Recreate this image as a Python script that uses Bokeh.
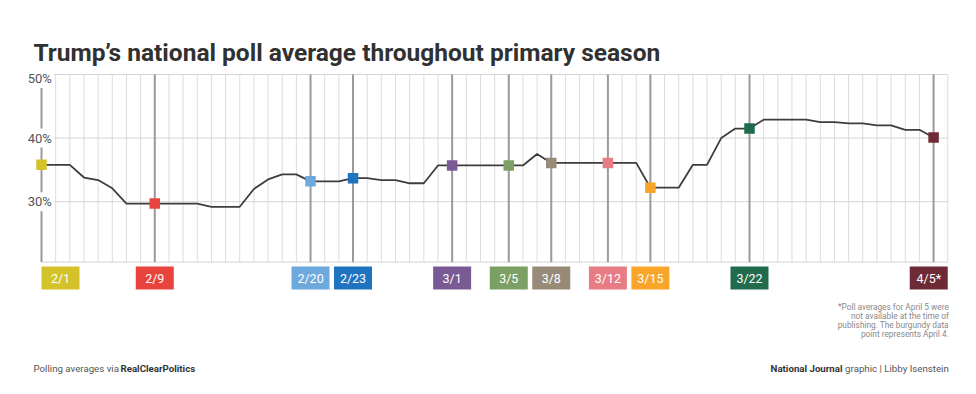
import numpy as np
import pandas as pd
from bokeh.plotting import figure
from bokeh.models import Range1d
from bokeh.core.properties import value
from bokeh.embed import file_html
from bokeh.resources import INLINE

# ---------------- data ----------------
start_date = "2016-02-01"
poll_dates = pd.date_range("2016-02-01", "2016-04-04", freq="D")
poll_avg = [
    35.8, 35.8, 35.8, 33.8, 33.4, 32.1, 29.7, 29.7, 29.7, 29.7,
    29.7, 29.7, 29.2, 29.2, 29.2, 32.0, 33.5, 34.3, 34.3, 33.2,
    33.2, 33.2, 33.7, 33.7, 33.4, 33.4, 32.9, 32.9, 35.7, 35.7,
    35.7, 35.7, 35.7, 35.7, 35.7, 37.5, 36.1, 36.1, 36.1, 36.1,
    36.1, 36.1, 36.1, 32.2, 32.2, 32.2, 35.8, 35.8, 40.0, 41.5,
    41.5, 42.9, 42.9, 42.9, 42.9, 42.5, 42.5, 42.3, 42.3, 42.0,
    42.0, 41.3, 41.3, 40.1,
]
event_labels = ["2/1", "2/9", "2/20", "2/23", "3/1", "3/5", "3/8",
                "3/12", "3/15", "3/22", "4/5*"]
event_dates = ["2016-02-01", "2016-02-09", "2016-02-20", "2016-02-23",
               "2016-03-01", "2016-03-05", "2016-03-08", "2016-03-12",
               "2016-03-15", "2016-03-22", "2016-04-04"]
event_colors = ["#D3C22A", "#E8433C", "#6DA9DD", "#1F74BF", "#7A5A94",
                "#7CA064", "#978B77", "#E87C85", "#F8A52A", "#1F6B4C",
                "#6E2B37"]
y_ticks = [30, 40, 50]
y_tick_labels = ["30%", "40%", "50%"]

title_text = "Trump\u2019s national poll average throughout primary season"
note_lines = ["*Poll averages for April 5 were",
              "not available at the time of",
              "publishing. The burgundy data",
              "point represents April 4."]

# ---------------- layout ----------------
W, H = 968, 386
PX_DAY = 14.16
X0 = 41.0           # pixel of day 0
PX_PCT = 6.36
Y50 = 74.0          # pixel (from top) of 50%
Y_BOTTOM = 20.5

def dx(px):
    return (px - X0) / PX_DAY

def dy(py):
    return 50 - (py - Y50) / PX_PCT

t0 = pd.Timestamp(start_date)
x = np.array([(d - t0).days for d in poll_dates])
ev_x = np.array([(pd.Timestamp(d) - t0).days for d in event_dates])
ev_y = np.array([poll_avg[i] for i in ev_x])
x_end = int(x.max()) + 1
grid_days = np.arange(0, x_end + 1)

p = figure(width=W, height=H, x_range=Range1d(dx(0), dx(W)),
           y_range=Range1d(dy(H), dy(0)), min_border=0,
           x_axis_location=None, y_axis_location=None,
           toolbar_location=None, output_backend="svg",
           outline_line_color=None, background_fill_color="white",
           border_fill_color="white")
p.grid.visible = False

FONT = value("Roboto")

# light day grid
p.segment(x0=grid_days, y0=Y_BOTTOM, x1=grid_days, y1=50,
          line_color="#dcdcdc", line_width=1)
# horizontal lines
h_lines = [Y_BOTTOM] + y_ticks
p.segment(x0=0, y0=h_lines, x1=x_end, y1=h_lines,
          line_color="#d4d4d4", line_width=1)
# event lines
p.segment(x0=ev_x, y0=Y_BOTTOM, x1=ev_x, y1=50,
          line_color="#9a9a9a", line_width=2)

# y labels
label_y = [min(t, 50 - 4 / PX_PCT) for t in y_ticks]
p.text(x=dx(53.3), y=label_y, text=y_tick_labels, text_font=FONT,
       text_font_size="13px", text_color="#555555", text_align="right",
       text_baseline="middle", background_fill_color="white", padding=2)

# line + markers
p.line(x, poll_avg, line_color="#3d3d3d", line_width=1.8)
p.scatter(ev_x, ev_y, marker="square", size=10.5, fill_color=event_colors,
          line_color=None)

# date boxes
half = 19 / PX_DAY
box_x = np.clip(ev_x, half, x_end - half)
box_y = dy(277.5)
p.rect(x=box_x, y=box_y, width=38, height=23, width_units="screen",
       height_units="screen", fill_color=event_colors, line_color=None)
p.text(x=box_x, y=box_y, text=event_labels, text_font=FONT,
       text_font_size="12.5px", text_color="white", text_align="center",
       text_baseline="middle")

# title
p.text(x=dx(33), y=dy(51.7), text=[title_text],
       text_font=FONT, text_font_style="bold",
       text_font_size="24.5px", text_color="#313131",
       text_baseline="alphabetic", text_align="left")

# note
note_y = [dy(py) for py in (306, 315.3, 324.6, 333.7)]
p.text(x=dx(948.3), y=note_y, text=note_lines, text_font=FONT,
       text_font_size="8.3px", text_color="#8a8a8a", text_align="right",
       text_baseline="middle")

# footers
fy = dy(368)
p.text(x=dx(33), y=fy, text=["Polling averages via"], text_font=FONT,
       text_font_size="9.7px", text_color="#555555", text_baseline="alphabetic")
p.text(x=dx(120), y=fy, text=["RealClearPolitics"], text_font=FONT,
       text_font_style="bold", text_font_size="9.7px", text_color="#333333",
       text_baseline="alphabetic")
p.text(x=dx(842), y=fy, text=["National Journal"], text_font=FONT,
       text_font_style="bold", text_font_size="9.7px", text_color="#333333",
       text_baseline="alphabetic", text_align="right")
p.text(x=dx(948.3), y=fy, text=["graphic | Libby Isenstein"], text_font=FONT,
       text_font_size="9.7px", text_color="#555555", text_align="right",
       text_baseline="alphabetic")

open("out.html", "w").write(file_html(p, INLINE))
